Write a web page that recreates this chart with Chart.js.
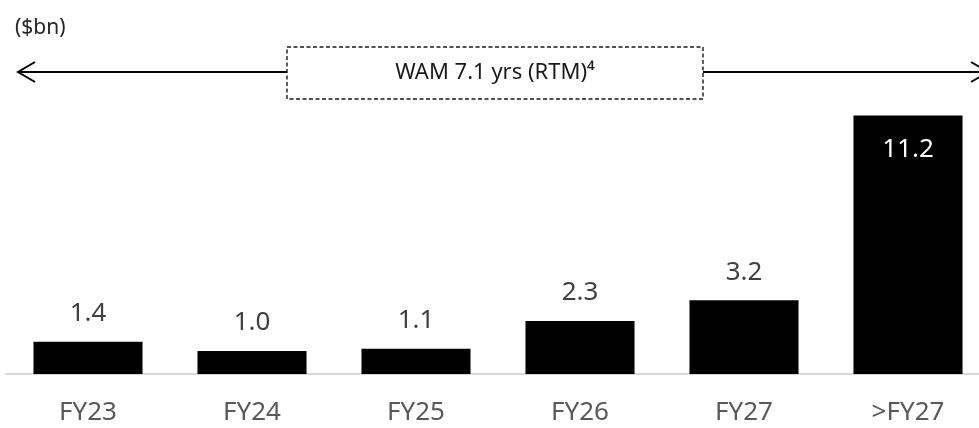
<!DOCTYPE html>
<html>
<head>
<meta charset="utf-8">
<script src="https://cdn.jsdelivr.net/npm/chart.js@4/dist/chart.umd.min.js"></script>
<style>
  html, body { margin: 0; padding: 0; background: #ffffff; overflow: hidden; }
  #wrap { position: relative; width: 979px; height: 428px; overflow: hidden; }
</style>
</head>
<body>
<div id="wrap"><canvas id="chart" width="992" height="428"></canvas></div>
<script>
// Debt maturity profile ($bn)
const categories = ['FY23', 'FY24', 'FY25', 'FY26', 'FY27', '>FY27'];
const maturities = [1.4, 1.0, 1.1, 2.3, 3.2, 11.2];
const unitLabel = '($bn)';
const wamLabel = 'WAM 7.1 yrs (RTM)⁴';

const FONT = '"Noto Sans", "Open Sans", sans-serif';

// Value labels: above each bar, or inside the top of tall bars
const valueLabels = {
  id: 'valueLabels',
  afterDatasetsDraw(chart) {
    const ctx = chart.ctx;
    const meta = chart.getDatasetMeta(0);
    const data = chart.data.datasets[0].data;
    ctx.save();
    ctx.font = '26px ' + FONT;
    ctx.textAlign = 'center';
    ctx.textBaseline = 'middle';
    meta.data.forEach((bar, i) => {
      const h = bar.base - bar.y;
      const text = data[i].toFixed(1);
      if (h > 120) {
        ctx.fillStyle = '#ffffff';
        ctx.fillText(text, bar.x, bar.y + 34);
      } else {
        ctx.fillStyle = '#404040';
        ctx.fillText(text, bar.x, bar.y - 28);
      }
    });
    ctx.restore();
  }
};

// Unit caption and the WAM range arrow with its dashed label box
const header = {
  id: 'header',
  afterDraw(chart) {
    const ctx = chart.ctx;
    const area = chart.chartArea;
    ctx.save();

    ctx.font = '21px ' + FONT;
    ctx.fillStyle = '#262626';
    ctx.textAlign = 'left';
    ctx.textBaseline = 'middle';
    ctx.fillText(unitLabel, 15, 28);

    const y = 72;
    const leftTip = area.left + 12;
    const rightTip = area.right - 2;
    const boxL = 287, boxR = 703, boxT = 47, boxB = 99;

    ctx.strokeStyle = '#000000';
    ctx.lineWidth = 2;
    ctx.beginPath();
    ctx.moveTo(leftTip, y); ctx.lineTo(boxL, y);
    ctx.moveTo(boxR, y); ctx.lineTo(rightTip, y);
    ctx.stroke();

    // open chevron heads
    ctx.beginPath();
    ctx.moveTo(leftTip + 17, y - 10); ctx.lineTo(leftTip, y); ctx.lineTo(leftTip + 17, y + 10);
    ctx.moveTo(rightTip - 17, y - 10); ctx.lineTo(rightTip, y); ctx.lineTo(rightTip - 17, y + 10);
    ctx.stroke();

    ctx.lineWidth = 1.4;
    ctx.strokeStyle = '#1a1a1a';
    ctx.setLineDash([4, 2.5]);
    ctx.strokeRect(boxL, boxT, boxR - boxL, boxB - boxT);
    ctx.setLineDash([]);

    ctx.font = '22px ' + FONT;
    ctx.fillStyle = '#1a1a1a';
    ctx.textAlign = 'center';
    ctx.fillText(wamLabel, (boxL + boxR) / 2, y + 1);
    ctx.restore();
  }
};

new Chart(document.getElementById('chart'), {
  type: 'bar',
  data: {
    labels: categories,
    datasets: [{
      data: maturities,
      backgroundColor: '#000000',
      borderWidth: 0,
      categoryPercentage: 1,
      barPercentage: 0.665
    }]
  },
  options: {
    responsive: false,
    devicePixelRatio: 1,
    animation: false,
    layout: { padding: { top: 97, left: 6, right: 2, bottom: -24 } },
    plugins: { legend: { display: false }, tooltip: { enabled: false } },
    scales: {
      x: {
        grid: { display: false, drawTicks: false },
        border: { display: true, color: '#d9d9d9', width: 2 },
        ticks: {
          color: '#595959',
          padding: 24,
          font: { family: FONT, size: 26, lineHeight: 1.15 }
        }
      },
      y: {
        display: false,
        min: 0,
        max: 12
      }
    }
  },
  plugins: [valueLabels, header]
});
</script>
</body>
</html>
